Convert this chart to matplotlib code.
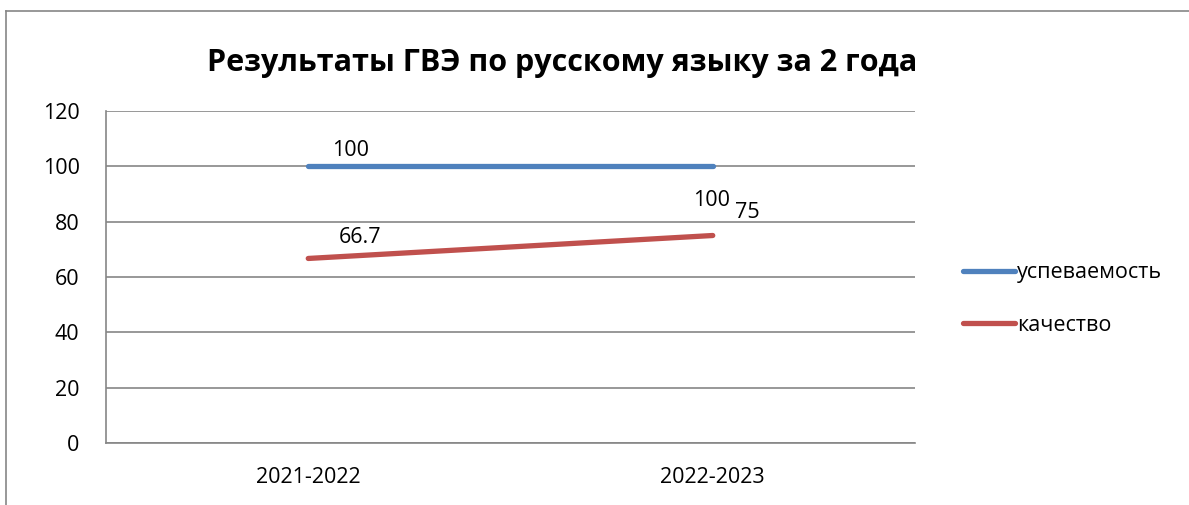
import matplotlib.pyplot as plt
from matplotlib.lines import Line2D

plt.rcParams['font.family'] = ['Open Sans', 'DejaVu Sans']

# данные
years = ['2021-2022', '2022-2023']
uspevaemost = [100, 100]
kachestvo = [66.7, 75]
uspev_labels = ['100', '100']
kach_labels = ['66.7', '75']

W, H = 1189, 505
fig = plt.figure(figsize=(W / 100, H / 100), dpi=100)
ax = fig.add_axes([106 / W, 1 - 443 / H, (915 - 106) / W, (443 - 111) / H])

x = range(len(years))
ax.plot(x, uspevaemost, color='#4F81BD', lw=3.8, solid_capstyle='round', label='успеваемость')
ax.plot(x, kachestvo, color='#C0504D', lw=3.8, solid_capstyle='round', label='качество')

# подписи данных (смещения в пикселях)
offs_u = [(42, 16), (-1, -34)]
offs_k = [(52, 21), (35, 23)]
for i in x:
    ax.annotate(uspev_labels[i], (i, uspevaemost[i]), xytext=(offs_u[i][0] * 0.72, offs_u[i][1] * 0.72),
                textcoords='offset points', ha='center', va='center', fontsize=15.5)
    ax.annotate(kach_labels[i], (i, kachestvo[i]), xytext=(offs_k[i][0] * 0.72, offs_k[i][1] * 0.72),
                textcoords='offset points', ha='center', va='center', fontsize=15.5)

ax.set_xlim(-0.5, 1.5)
ax.set_ylim(0, 120)
ax.set_yticks(range(0, 121, 20))
ax.set_xticks(list(x))
ax.set_xticklabels(years)
ax.tick_params(length=0, labelsize=15.5)
ax.tick_params(axis='x', pad=17)
ax.tick_params(axis='y', pad=19)
ax.grid(axis='y', color='#868686', lw=1.2)
ax.set_axisbelow(True)
for s in ['top', 'right']:
    ax.spines[s].set_visible(False)
for s in ['left', 'bottom']:
    ax.spines[s].set_color('#868686')
    ax.spines[s].set_linewidth(1.2)

fig.text(562 / W, 1 - 63 / H, 'Результаты ГВЭ по русскому языку за 2 года',
         ha='center', va='center', fontsize=22, fontweight='bold')

leg = fig.legend(loc='upper left', bbox_to_anchor=(944 / W, 1 - 243 / H), frameon=False,
                 fontsize=15.5, handlelength=2.4, handletextpad=0.1, labelspacing=1.45)

# рамка диаграммы
fig.add_artist(Line2D([6 / W, 6 / W], [0, 1 - 11 / H], color='#868686', lw=1.2))
fig.add_artist(Line2D([6 / W, 1], [1 - 11 / H, 1 - 11 / H], color='#868686', lw=1.2))

fig.savefig('out.png', dpi=100)
